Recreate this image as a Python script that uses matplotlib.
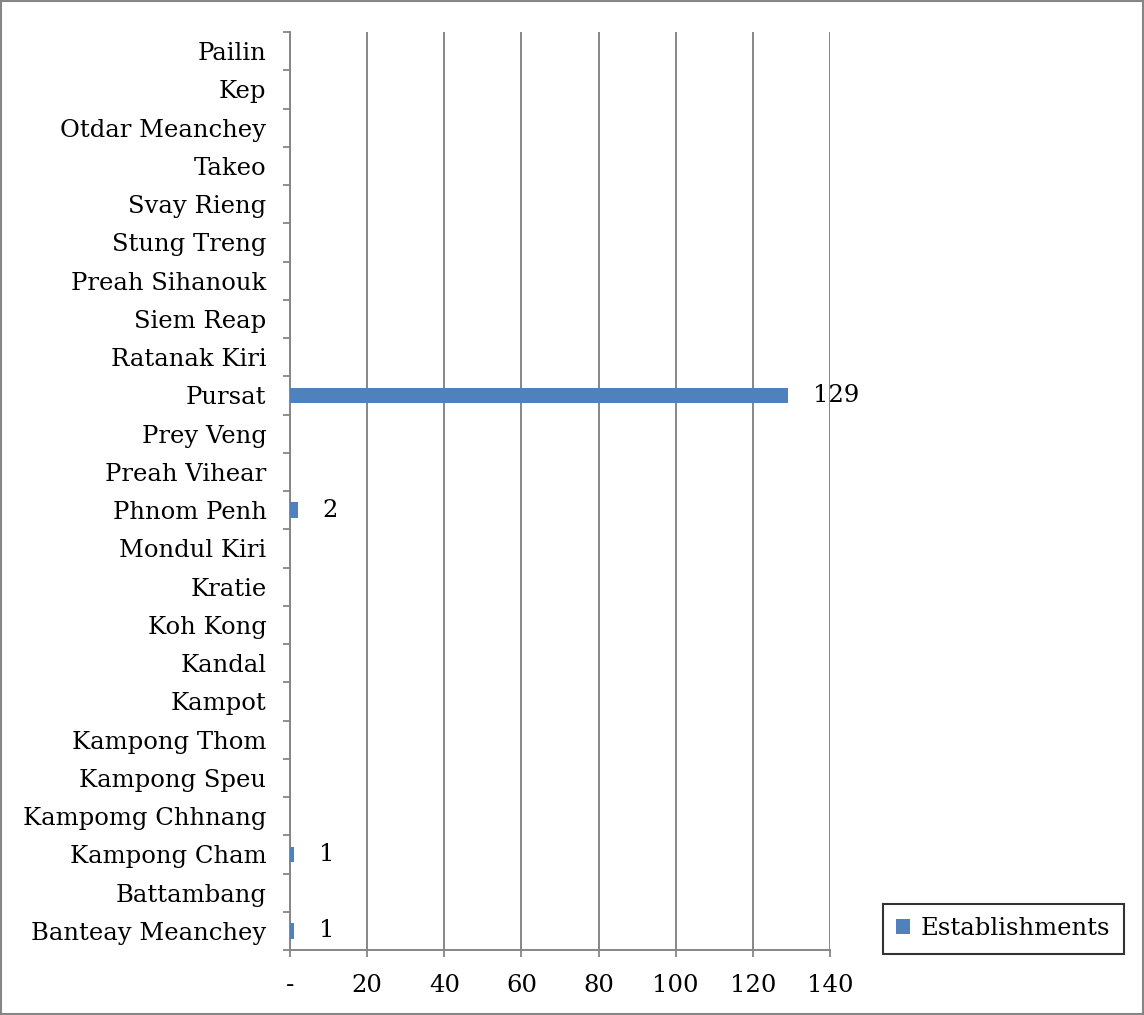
import matplotlib.pyplot as plt
from matplotlib.patches import Rectangle
import numpy as np

# Provinces, bottom to top as they appear on the axis
provinces = ['Banteay Meanchey', 'Battambang', 'Kampong Cham', 'Kampomg Chhnang',
             'Kampong Speu', 'Kampong Thom', 'Kampot', 'Kandal', 'Koh Kong', 'Kratie',
             'Mondul Kiri', 'Phnom Penh', 'Preah Vihear', 'Prey Veng', 'Pursat',
             'Ratanak Kiri', 'Siem Reap', 'Preah Sihanouk', 'Stung Treng', 'Svay Rieng',
             'Takeo', 'Otdar Meanchey', 'Kep', 'Pailin']
establishments = [1, 0, 1, 0, 0, 0, 0, 0, 0, 0, 0, 2, 0, 0, 129,
                  0, 0, 0, 0, 0, 0, 0, 0, 0]

x_ticks = [0, 20, 40, 60, 80, 100, 120, 140]
x_labels = ['-', '20', '40', '60', '80', '100', '120', '140']

BLUE = '#4F81BD'
GREY = '#868686'
FS = 17.5

plt.rcParams['font.family'] = 'DejaVu Serif'
plt.rcParams['font.size'] = FS

fig = plt.figure(figsize=(11.44, 10.15), dpi=100)
ax = fig.add_axes([290 / 1144, 1 - 950 / 1015, 540 / 1144, 918 / 1015])

y = np.arange(len(provinces))
ax.barh(y, establishments, height=0.41, color=BLUE, linewidth=0,
        label='Establishments', zorder=3)

# value labels only where there is something to show
for yi, v in zip(y, establishments):
    if v:
        ax.annotate(str(v), (v, yi), xytext=(18, 0), textcoords='offset points',
                    ha='left', va='center', fontsize=FS, zorder=4)

ax.set_xlim(0, 140)
ax.set_ylim(-0.5, len(provinces) - 0.5)

ax.set_xticks(x_ticks)
ax.set_xticklabels(x_labels)
ax.tick_params(axis='x', length=5, width=1.3, color=GREY, pad=12)

# labels at category centres, tick marks on category boundaries
ax.set_yticks(y)
ax.set_yticklabels(provinces)
ax.tick_params(axis='y', which='major', length=0, pad=17)
ax.set_yticks(np.arange(len(provinces) + 1) - 0.5, minor=True)
ax.tick_params(axis='y', which='minor', length=5, width=1.3, color=GREY)

ax.grid(axis='x', color=GREY, linewidth=1.4, zorder=0)
for side in ['top', 'right']:
    ax.spines[side].set_visible(False)
for side in ['left', 'bottom']:
    ax.spines[side].set_color(GREY)
    ax.spines[side].set_linewidth(1.4)

leg = fig.legend(loc='upper left', bbox_to_anchor=(883 / 1144, 1 - 904 / 1015),
                 frameon=True, fancybox=False, fontsize=FS, handlelength=0.55,
                 handleheight=0.55, handletextpad=0.45, borderpad=0.55,
                 borderaxespad=0)
leg.get_frame().set_edgecolor('black')
leg.get_frame().set_linewidth(1.5)

# outer chart border
fig.patches.append(Rectangle((0.001, 0.001), 0.998, 0.998, transform=fig.transFigure,
                             fill=False, edgecolor=GREY, linewidth=1.5))

fig.savefig('out.png', dpi=100)
